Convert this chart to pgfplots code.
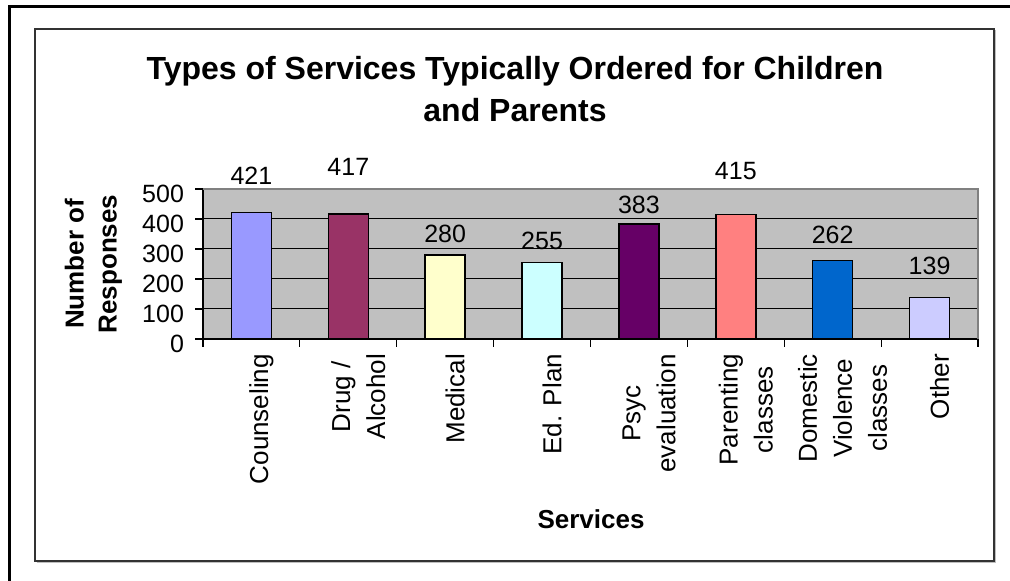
\documentclass[border=0pt]{standalone}
\usepackage{pgfplots}
\pgfplotsset{compat=1.18}
\usepackage{fontspec}
\setmainfont{Liberation Sans}
\definecolor{c1}{HTML}{9999FF}
\definecolor{c2}{HTML}{993366}
\definecolor{c3}{HTML}{FFFFCC}
\definecolor{c4}{HTML}{CCFFFF}
\definecolor{c5}{HTML}{660066}
\definecolor{c6}{HTML}{FF8080}
\definecolor{c7}{HTML}{0066CC}
\definecolor{c8}{HTML}{CCCCFF}
\definecolor{plotbg}{HTML}{C0C0C0}
\begin{document}
\begin{tikzpicture}
\path[use as bounding box] (0pt,0pt) rectangle (505pt,290.5pt);
% outer frame (top and left visible)
\draw[line width=1.5pt,black] (4.75pt,0pt) -- (4.75pt,287pt) -- (505pt,287pt);
% inner chart frame with shadow
\draw[line width=0.75pt,black!25] (18.25pt,9.25pt) -- (497.75pt,9.25pt) -- (497.75pt,275.25pt);
\draw[line width=0.75pt,black!80] (17.5pt,10pt) rectangle (497pt,276pt);
% title
\node[anchor=base,font=\fontsize{16}{20}\selectfont\bfseries] at (257.5pt,250.5pt) {Types of Services Typically Ordered for Children};
\node[anchor=base,font=\fontsize{16}{20}\selectfont\bfseries] at (257.5pt,229.5pt) {and Parents};
% axis titles
\node[rotate=90,align=center,font=\fontsize{13}{16.5}\selectfont\bfseries] at (46.75pt,158.5pt) {Number of\\Responses};
\node[anchor=base,font=\fontsize{13}{16}\selectfont\bfseries] at (295.5pt,26pt) {Services};
\begin{axis}[
  at={(101.5pt,121pt)}, anchor=south west,
  scale only axis, width=387.5pt, height=75pt,
  xmin=-0.5, xmax=7.5, ymin=0, ymax=500,
  axis lines*=left,
  axis line style={black, line width=0.6pt},
  axis background/.style={fill=plotbg},
  clip=false,
  ytick={0,100,...,500},
  ymajorgrids, grid style={black, line width=0.5pt},
  xtick={0,...,7},
  xticklabels={Counseling, Drug /\\Alcohol, Medical, Ed. Plan, Psyc\\evaluation, Parenting\\classes, Domestic\\Violence\\classes, Other},
  minor xtick={-0.5,0.5,...,7.5},
  tick align=outside,
  major x tick style={draw=none},
  major tick length=4pt, minor tick length=4pt,
  every tick/.style={black, line width=0.6pt},
  /pgf/number format/assume math mode=true,
  yticklabel style={font=\fontsize{12.5}{15}\selectfont, anchor=east, xshift=-2pt, yshift=-2.5pt},
  xticklabel style={font=\fontsize{13}{17.5}\selectfont, rotate=90, anchor=east, align=center, yshift=-5pt},
]
\draw[line width=0.6pt, black!50] (rel axis cs:0,1) -- (rel axis cs:1,1) -- (rel axis cs:1,0);
\addplot[ybar, bar width=20pt, bar shift=0pt, fill=c1, draw=black, line width=0.75pt] coordinates {(0,421)};
\addplot[ybar, bar width=20pt, bar shift=0pt, fill=c2, draw=black, line width=0.75pt] coordinates {(1,417)};
\addplot[ybar, bar width=20pt, bar shift=0pt, fill=c3, draw=black, line width=0.75pt] coordinates {(2,280)};
\addplot[ybar, bar width=20pt, bar shift=0pt, fill=c4, draw=black, line width=0.75pt] coordinates {(3,255)};
\addplot[ybar, bar width=20pt, bar shift=0pt, fill=c5, draw=black, line width=0.75pt] coordinates {(4,383)};
\addplot[ybar, bar width=20pt, bar shift=0pt, fill=c6, draw=black, line width=0.75pt] coordinates {(5,415)};
\addplot[ybar, bar width=20pt, bar shift=0pt, fill=c7, draw=black, line width=0.75pt] coordinates {(6,262)};
\addplot[ybar, bar width=20pt, bar shift=0pt, fill=c8, draw=black, line width=0.75pt] coordinates {(7,139)};
% data labels (positions as placed in the reference)
\addplot[draw=none, mark=none, point meta=explicit symbolic,
  nodes near coords, nodes near coords align=center,
  every node near coord/.append style={anchor=center, font=\fontsize{12.5}{15}\selectfont}]
  coordinates {(0,543)[421] (1,572)[417] (2,350)[280] (3,327)[255] (4,447)[383] (5,560)[415] (6,347)[262] (7,245)[139]};
\end{axis}
\end{tikzpicture}
\end{document}
